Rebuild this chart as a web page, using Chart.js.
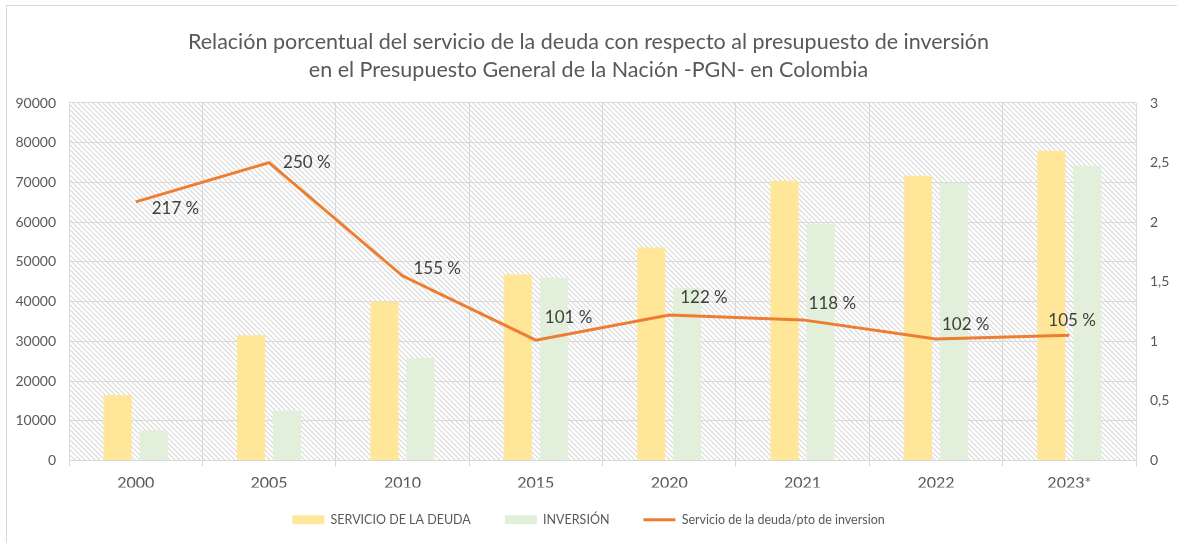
<!DOCTYPE html>
<html>
<head>
<meta charset="utf-8">
<script src="https://cdn.jsdelivr.net/npm/chart.js@4.4.1/dist/chart.umd.min.js"></script>
<style>
  html, body { margin: 0; padding: 0; background: #fff; }
  #wrap { position: relative; width: 1177px; height: 543px; overflow: hidden; }
  #frame { position: absolute; left: 6px; top: 5px; width: 1200px; height: 600px; border: 1px solid #d9d9d9; }
  canvas { position: absolute; left: 0; top: 0; }
</style>
</head>
<body>
<div id="wrap">
  <div id="frame"></div>
  <canvas id="chart" width="1177" height="543"></canvas>
</div>
<script>
const years = ['2000', '2005', '2010', '2015', '2020', '2021', '2022', '2023*'];
const servicioDeuda = [16500, 31500, 40000, 46800, 53600, 70400, 71700, 78000];
const inversion = [7600, 12600, 25800, 46000, 43500, 59600, 69900, 74200];
const ratio = [2.17, 2.50, 1.55, 1.01, 1.22, 1.18, 1.02, 1.05];

// where each % label sits relative to its point (x to text start, y to text middle)
const labelOffsets = [[16, 7], [14, 0], [11, -7], [9, -23], [11, -18], [6, -16], [6, -14], [-21, -15]];

const FONT = 'Lato, "Open Sans", sans-serif';
const GRID = '#d9d9d9';
const TEXT = '#595959';

function makeHatch() {
  const s = 5;
  const c = document.createElement('canvas');
  c.width = s; c.height = s;
  const g = c.getContext('2d');
  g.fillStyle = '#ffffff';
  g.fillRect(0, 0, s, s);
  g.strokeStyle = '#d9d9d9';
  g.lineWidth = 1.1;
  g.beginPath();
  g.moveTo(-1, -1); g.lineTo(s + 1, s + 1);
  g.moveTo(-1, s - 1); g.lineTo(1, s + 1);
  g.moveTo(s - 1, -1); g.lineTo(s + 1, 1);
  g.stroke();
  return g.createPattern(c, 'repeat');
}

const plotBackground = {
  id: 'plotBackground',
  beforeDraw(chart) {
    const {ctx, chartArea: a} = chart;
    ctx.save();
    ctx.fillStyle = makeHatch();
    ctx.fillRect(a.left, a.top, a.right - a.left, a.bottom - a.top);
    ctx.restore();
  }
};

// nudge the legend up a little, closer to the axis labels
const legendShift = {
  id: 'legendShift',
  afterLayout(chart) {
    const lg = chart.legend;
    lg.top -= 8;
    lg.bottom -= 8;
  }
};

const ratioLabels = {
  id: 'ratioLabels',
  afterDatasetsDraw(chart) {
    const {ctx} = chart;
    const meta = chart.getDatasetMeta(2);
    ctx.save();
    ctx.font = '17px ' + FONT;
    ctx.fillStyle = '#404040';
    ctx.textAlign = 'left';
    ctx.textBaseline = 'middle';
    meta.data.forEach((pt, i) => {
      const [dx, dy] = labelOffsets[i];
      ctx.fillText(Math.round(ratio[i] * 100) + ' %', pt.x + dx, pt.y + dy);
    });
    ctx.restore();
  }
};

new Chart(document.getElementById('chart').getContext('2d'), {
  type: 'bar',
  data: {
    labels: years,
    datasets: [
      {
        label: 'SERVICIO DE LA DEUDA',
        data: servicioDeuda,
        backgroundColor: '#ffe699',
        yAxisID: 'y',
        order: 1,
        barPercentage: 0.78,
        categoryPercentage: 0.54,
      },
      {
        label: 'INVERSIÓN',
        data: inversion,
        backgroundColor: '#e2efda',
        yAxisID: 'y',
        order: 1,
        barPercentage: 0.78,
        categoryPercentage: 0.54,
      },
      {
        type: 'line',
        label: 'Servicio de la deuda/pto de inversion',
        data: ratio,
        borderColor: '#ed7d31',
        backgroundColor: '#ed7d31',
        borderWidth: 3,
        pointRadius: 0,
        tension: 0,
        yAxisID: 'y1',
        order: 0,
      },
    ],
  },
  options: {
    responsive: false,
    animation: false,
    layout: { padding: { top: 0, bottom: -1, left: 0, right: 0 } },
    plugins: {
      title: {
        display: true,
        text: ['Relación porcentual del servicio de la deuda con respecto al presupuesto de inversión',
               'en el Presupuesto General de la Nación -PGN- en Colombia'],
        color: TEXT,
        font: { family: FONT, size: 21.5, weight: 'normal', lineHeight: 1.302 },
        padding: { top: 28, bottom: 19 },
      },
      legend: {
        position: 'bottom',
        labels: {
          usePointStyle: true,
          pointStyleWidth: 32,
          boxHeight: 9,
          padding: 34,
          color: TEXT,
          font: { family: FONT, size: 12.5 },
          generateLabels(chart) {
            return chart.data.datasets.map((ds, i) => ({
              text: ds.label,
              fillStyle: ds.type === 'line' ? ds.borderColor : ds.backgroundColor,
              strokeStyle: ds.type === 'line' ? ds.borderColor : ds.backgroundColor,
              lineWidth: ds.type === 'line' ? 3 : 0,
              pointStyle: ds.type === 'line' ? 'line' : 'rect',
              fontColor: TEXT,
              datasetIndex: i,
              hidden: false,
            }));
          },
        },
      },
      tooltip: { enabled: false },
    },
    scales: {
      x: {
        grid: { color: GRID, offset: true, tickLength: 6, tickColor: GRID },
        border: { color: GRID },
        ticks: { color: TEXT, font: { family: FONT, size: 16 }, padding: 7 },
        afterFit(s) { s.height = 27; },
      },
      y: {
        position: 'left',
        min: 0,
        max: 90000,
        ticks: {
          stepSize: 10000,
          color: TEXT,
          font: { family: FONT, size: 14 },
          padding: 13,
          callback: v => String(v),
        },
        grid: { color: GRID, drawTicks: false },
        border: { color: GRID },
        afterFit(s) { s.width = 69; },
      },
      y1: {
        position: 'right',
        min: 0,
        max: 3,
        ticks: {
          stepSize: 0.5,
          color: TEXT,
          font: { family: FONT, size: 14 },
          padding: 14,
          callback: v => String(v).replace('.', ','),
        },
        grid: { drawOnChartArea: false, drawTicks: false },
        border: { display: false },
        afterFit(s) { s.width = 41; },
      },
    },
  },
  plugins: [plotBackground, legendShift, ratioLabels],
});
</script>
</body>
</html>
